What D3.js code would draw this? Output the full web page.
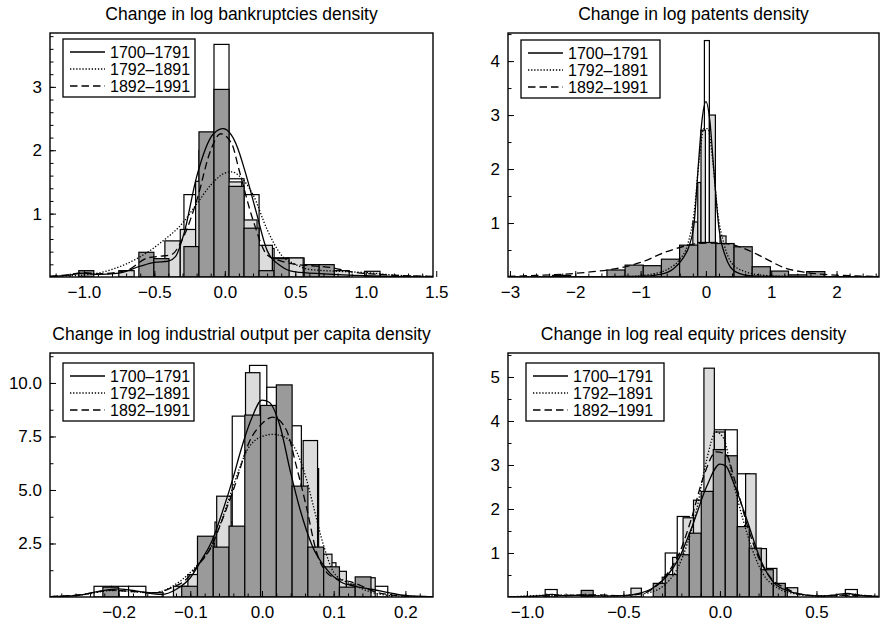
<!DOCTYPE html>
<html>
<head>
<meta charset="utf-8">
<script src="https://cdn.jsdelivr.net/npm/d3@7"></script>
<style>
body { margin: 0; background: #fff; }
text { font-family: "Liberation Sans", Arial, Helvetica, sans-serif; fill: #000; }
</style>
</head>
<body>
<svg id="chart" width="885" height="626"></svg>
<script>
// legend labels, same for all four panels
var periods = ["1700\u20131791", "1792\u20131891", "1892\u20131991"];

// ---- bankruptcies
var bankTitle = "Change in log bankruptcies density";
var bankXTicks = [-1.0, -0.5, 0.0, 0.5, 1.0, 1.5];
var bankYTicks = [1, 2, 3];
var bankWhiteBins = [-1.036, 0.1066];
var bankWhiteH = [0, 0, 0, 0, 0, 0, 0.4, 1.30, 2.0, 3.67, 1.55, 1.30, 0.45, 0.3, 0.3];
var bankLightBins = [-0.752, 0.109];
var bankLightH = [0.1, 0, 0, 0.57, 0.75, 1.51, 2.0, 1.5, 0.9, 0.5, 0.3, 0.3, 0, 0, 0.1, 0, 0.09];
var bankDarkBins = [-1.036, 0.1066];
var bankDarkH = [0.1, 0, 0, 0, 0.39, 0.29, 0, 0.48, 2.29, 2.96, 1.43, 0.77, 0.1, 0.29, 0, 0.195, 0.195];
var bankSolid = [[-1.24,0.01],[-1.1,0.03],[-1.0,0.06],[-0.9,0.04],[-0.75,0.06],[-0.6,0.17],[-0.5,0.23],[-0.4,0.25],[-0.35,0.32],[-0.29,0.68],[-0.2,1.58],[-0.08,2.26],[-0.01,2.34],[0.08,2.1],[0.155,1.58],[0.226,1.0],[0.3,0.42],[0.4,0.17],[0.5,0.08],[0.7,0.05],[1.0,0.02],[1.477,0.0]];
var bankDotted = [[-1.24,0.01],[-1.0,0.03],[-0.8,0.12],[-0.6,0.32],[-0.45,0.55],[-0.3,0.85],[-0.2,1.15],[-0.1,1.45],[0.0,1.64],[0.05,1.66],[0.1,1.6],[0.2,1.3],[0.3,0.75],[0.4,0.35],[0.5,0.2],[0.6,0.12],[0.8,0.09],[1.0,0.07],[1.2,0.03],[1.477,0.01]];
var bankDashed = [[-1.24,0.01],[-1.1,0.04],[-1.0,0.07],[-0.9,0.05],[-0.7,0.1],[-0.55,0.3],[-0.45,0.33],[-0.38,0.35],[-0.3,0.6],[-0.2,1.2],[-0.1,2.0],[-0.03,2.26],[0.05,2.1],[0.1,1.7],[0.2,0.9],[0.3,0.35],[0.4,0.25],[0.5,0.2],[0.6,0.18],[0.75,0.15],[0.9,0.08],[1.1,0.04],[1.477,0.01]];

// ---- patents
var patTitle = "Change in log patents density";
var patXTicks = [-3, -2, -1, 0, 1, 2];
var patYTicks = [1, 2, 3, 4];
var patWhiteEdges = [-0.023, 0.053];
var patWhiteH = [4.38];
var patLightEdges = [-0.2, -0.125, -0.075, -0.008, 0.053, 0.145, 0.216, 0.308];
var patLightH = [1.02, 1.75, 2.72, 0.6, 3.0, 0.6, 0.76];
var patDarkBins = [-2.349, 0.278];
var patDarkH = [0.03, 0, 0, 0.13, 0.22, 0.21, 0.33, 0.59, 0.64, 0.62, 0.56, 0.19, 0.11, 0.04, 0.1];
var patSolid = [[-3.03,0],[-1.0,0.01],[-0.7,0.05],[-0.5,0.15],[-0.35,0.35],[-0.25,0.6],[-0.18,1.0],[-0.12,2.0],[-0.06,2.9],[0.0,3.25],[0.06,2.9],[0.12,2.0],[0.2,0.9],[0.3,0.38],[0.45,0.1],[0.7,0.02],[1.0,0.01],[2.65,0]];
var patDotted = [[-3.03,0],[-1.2,0.01],[-0.8,0.06],[-0.56,0.16],[-0.4,0.33],[-0.28,0.6],[-0.18,1.2],[-0.1,2.2],[-0.03,2.75],[0.03,2.75],[0.1,2.2],[0.18,1.2],[0.28,0.6],[0.4,0.25],[0.6,0.1],[0.9,0.03],[1.3,0.01],[2.65,0]];
var patDashed = [[-3.03,0.01],[-2.6,0.03],[-2.2,0.05],[-1.8,0.09],[-1.4,0.15],[-1.0,0.27],[-0.6,0.47],[-0.3,0.58],[0.0,0.63],[0.3,0.62],[0.6,0.52],[0.9,0.35],[1.2,0.17],[1.5,0.09],[1.9,0.04],[2.3,0.02],[2.65,0.01]];

// ---- industrial output per capita
var indTitle = "Change in log industrial output per capita density";
var indXTicks = [-0.2, -0.1, 0.0, 0.1, 0.2];
var indYTicks = [2.5, 5.0, 7.5, 10.0];
var indWhiteBins = [-0.2343, 0.0241];
var indWhiteH = [0.5, 0.5, 0.5, 0.2, 0, 0.4, 2.5, 3.5, 8.45, 10.82, 9.8, 8.0, 6.0, 1.6, 0.4, 0.2, 0.5];
var indLightBins = [-0.1235, 0.0201];
var indLightH = [0.5, 1.05, 2.0, 4.71, 3.0, 10.48, 8.0, 8.0, 5.0, 7.31, 2.0, 1.2, 0.6, 0.9];
var indDarkBins = [-0.222, 0.022];
var indDarkH = [0.46, 0, 0, 0, 0, 0.5, 2.84, 2.33, 3.31, 8.5, 8.95, 9.91, 5.18, 2.33, 1.41, 0.46, 0.94];
var indSolid = [[-0.295,0.02],[-0.26,0.06],[-0.23,0.25],[-0.2,0.38],[-0.17,0.25],[-0.14,0.12],[-0.12,0.35],[-0.1,0.9],[-0.085,1.7],[-0.07,2.6],[-0.055,4.0],[-0.04,5.6],[-0.03,6.8],[-0.015,8.3],[0.0,9.2],[0.01,9.1],[0.025,8.0],[0.04,5.8],[0.053,4.1],[0.07,2.4],[0.09,1.3],[0.11,0.7],[0.13,0.5],[0.155,0.35],[0.18,0.18],[0.2,0.07],[0.238,0.01]];
var indDotted = [[-0.295,0.02],[-0.25,0.1],[-0.21,0.3],[-0.18,0.25],[-0.15,0.2],[-0.125,0.5],[-0.1,1.15],[-0.085,1.7],[-0.07,2.4],[-0.055,3.7],[-0.04,5.2],[-0.02,6.9],[0.0,7.5],[0.015,7.6],[0.03,7.5],[0.045,7.0],[0.062,5.5],[0.072,4.2],[0.086,2.4],[0.1,1.15],[0.115,0.75],[0.132,0.5],[0.15,0.25],[0.17,0.1],[0.2,0.03],[0.238,0.01]];
var indDashed = [[-0.295,0.02],[-0.25,0.12],[-0.21,0.32],[-0.18,0.25],[-0.15,0.2],[-0.125,0.45],[-0.11,0.7],[-0.09,1.45],[-0.07,2.4],[-0.059,3.3],[-0.04,5.0],[-0.017,7.3],[0.0,8.1],[0.015,8.4],[0.034,7.8],[0.048,6.1],[0.062,4.2],[0.076,2.1],[0.09,1.15],[0.105,0.85],[0.123,0.72],[0.14,0.5],[0.155,0.27],[0.18,0.1],[0.21,0.03],[0.238,0.01]];

// ---- real equity prices
var eqTitle = "Change in log real equity prices density";
var eqXTicks = [-1.0, -0.5, 0.0, 0.5];
var eqYTicks = [1, 2, 3, 4, 5];
var eqWhiteBins = [-0.9054, 0.0622];
var eqWhiteH = [0.17, 0, 0, 0, 0, 0, 0, 0, 0, 0, 1.0, 1.83, 1.7, 2.3, 3.8, 3.8, 2.8, 1.1, 0.6, 0.3, 0.2, 0, 0, 0, 0, 0.17];
var eqLightBins = [-0.461, 0.054];
var eqLightH = [0.2, 0, 0, 0.45, 0.9, 1.8, 2.2, 5.2, 3.75, 3.0, 1.6, 2.8, 1.1, 0.65, 0.2, 0.21];
var eqDarkBins = [-0.7188, 0.0622];
var eqDarkH = [0.15, 0, 0, 0, 0, 0, 0.31, 0.51, 0.96, 1.45, 2.4, 3.35, 3.21, 1.6, 1.11, 0.62, 0.31];
var eqSolid = [[-1.098,0.0],[-0.95,0.02],[-0.87,0.06],[-0.8,0.03],[-0.7,0.04],[-0.6,0.02],[-0.5,0.03],[-0.42,0.08],[-0.35,0.2],[-0.28,0.45],[-0.21,0.9],[-0.14,1.65],[-0.07,2.5],[0.0,3.02],[0.03,2.98],[0.07,2.6],[0.14,1.75],[0.21,0.85],[0.28,0.32],[0.36,0.13],[0.44,0.05],[0.52,0.02],[0.6,0.05],[0.66,0.08],[0.72,0.04],[0.824,0.01]];
var eqDotted = [[-1.098,0.0],[-0.87,0.04],[-0.7,0.04],[-0.55,0.02],[-0.45,0.05],[-0.35,0.12],[-0.28,0.3],[-0.22,0.65],[-0.17,1.2],[-0.12,2.0],[-0.07,3.1],[-0.02,3.75],[0.02,3.6],[0.07,2.6],[0.12,1.75],[0.17,1.05],[0.22,0.55],[0.3,0.2],[0.38,0.08],[0.46,0.03],[0.6,0.03],[0.66,0.05],[0.824,0.01]];
var eqDashed = [[-1.098,0],[-0.85,0.03],[-0.65,0.05],[-0.5,0.03],[-0.4,0.08],[-0.33,0.25],[-0.27,0.55],[-0.21,1.0],[-0.15,1.75],[-0.08,2.8],[-0.02,3.3],[0.03,3.25],[0.08,2.6],[0.14,1.65],[0.2,0.9],[0.27,0.4],[0.34,0.2],[0.42,0.06],[0.55,0.02],[0.66,0.04],[0.824,0.01]];

function uniformEdges(bins, h) {
  return d3.range(h.length + 1).map(function(i) { return bins[0] + i * bins[1]; });
}

var svg = d3.select("#chart");
var lineStyles = [null, "1.3,1.8", "7.5,4"];
var fills = ["#ffffff", "#dcdcdc", "#9a9a9a"];

var panels = [
  { title: bankTitle, box: [50, 33, 433, 277], xd: [-1.24, 1.477], yd: [0, 3.85],
    xt: bankXTicks, yt: bankYTicks, xf: ".1f", yf: "d", xMinor: 0.1, yMinor: 0.2,
    hist: [[uniformEdges(bankWhiteBins, bankWhiteH), bankWhiteH], [uniformEdges(bankLightBins, bankLightH), bankLightH], [uniformEdges(bankDarkBins, bankDarkH), bankDarkH]],
    curves: [bankSolid, bankDotted, bankDashed], leg: [13, 6, 132] },
  { title: patTitle, box: [508, 33, 879, 277], xd: [-3.03, 2.65], yd: [0, 4.52],
    xt: patXTicks, yt: patYTicks, xf: "d", yf: "d", xMinor: 0.2, yMinor: 0.5,
    hist: [[patWhiteEdges, patWhiteH], [patLightEdges, patLightH], [uniformEdges(patDarkBins, patDarkH), patDarkH]],
    curves: [patSolid, patDotted, patDashed], leg: [13, 7, 139] },
  { title: indTitle, box: [50, 353, 433, 597], xd: [-0.2957, 0.2385], yd: [0, 11.4],
    xt: indXTicks, yt: indYTicks, xf: ".1f", yf: ".1f", xMinor: 0.02, yMinor: 1.25,
    hist: [[uniformEdges(indWhiteBins, indWhiteH), indWhiteH], [uniformEdges(indLightBins, indLightH), indLightH], [uniformEdges(indDarkBins, indDarkH), indDarkH]],
    curves: [indSolid, indDotted, indDashed], leg: [13, 10, 131] },
  { title: eqTitle, box: [508, 353, 879, 597], xd: [-1.098, 0.824], yd: [0, 5.545],
    xt: eqXTicks, yt: eqYTicks, xf: ".1f", yf: "d", xMinor: 0.1, yMinor: 0.5,
    hist: [[uniformEdges(eqWhiteBins, eqWhiteH), eqWhiteH], [uniformEdges(eqLightBins, eqLightH), eqLightH], [uniformEdges(eqDarkBins, eqDarkH), eqDarkH]],
    curves: [eqSolid, eqDotted, eqDashed], leg: [18, 10, 138] }
];

panels.forEach(function(p, pi) {
  var L = p.box[0], T = p.box[1], R = p.box[2], B = p.box[3];
  var x = d3.scaleLinear().domain(p.xd).range([L, R]);
  var y = d3.scaleLinear().domain(p.yd).range([B, T]);
  var g = svg.append("g");

  g.append("clipPath").attr("id", "clip" + pi)
    .append("rect").attr("x", L).attr("y", T).attr("width", R - L).attr("height", B - T);
  var plot = g.append("g").attr("clip-path", "url(#clip" + pi + ")");

  // histograms: white, light grey, dark grey
  p.hist.forEach(function(s, si) {
    var edges = s[0], h = s[1];
    var bars = h.map(function(v, i) { return { a: edges[i], b: edges[i + 1], h: v }; })
      .filter(function(d) { return d.h > 0; });
    plot.selectAll("rect.s" + si)
      .data(bars)
      .enter()
      .append("rect")
        .attr("class", "s" + si)
        .attr("x", function(d) { return x(d.a); })
        .attr("y", function(d) { return y(d.h); })
        .attr("width", function(d) { return x(d.b) - x(d.a); })
        .attr("height", function(d) { return y(0) - y(d.h); })
        .attr("fill", fills[si])
        .attr("stroke", "#000")
        .attr("stroke-width", 1.2);
  });

  // density curves
  var line = d3.line()
    .x(function(d) { return x(d[0]); })
    .y(function(d) { return y(d[1]); })
    .curve(d3.curveMonotoneX);
  p.curves.forEach(function(c, ci) {
    plot.append("path")
      .attr("d", line(c))
      .attr("fill", "none")
      .attr("stroke", "#000")
      .attr("stroke-width", 1.3)
      .attr("stroke-dasharray", lineStyles[ci]);
  });

  // axes, ticks point inward
  var xMinorTicks = d3.range(Math.ceil(p.xd[0] / p.xMinor), Math.floor(p.xd[1] / p.xMinor) + 1)
    .map(function(i) { return i * p.xMinor; });
  var yMinorTicks = d3.range(1, Math.floor(p.yd[1] / p.yMinor) + 1)
    .map(function(i) { return i * p.yMinor; });

  g.append("g").attr("transform", "translate(0," + B + ")")
    .call(d3.axisBottom(x).tickValues(xMinorTicks).tickSize(-3.5).tickFormat(""))
    .call(function(a) { a.select(".domain").remove(); });
  g.append("g").attr("transform", "translate(" + L + ",0)")
    .call(d3.axisLeft(y).tickValues(yMinorTicks).tickSize(-3.5).tickFormat(""))
    .call(function(a) { a.select(".domain").remove(); });

  var xa = g.append("g").attr("transform", "translate(0," + B + ")")
    .call(d3.axisBottom(x).tickValues(p.xt).tickSize(-6).tickPadding(9).tickFormat(d3.format(p.xf)));
  xa.select(".domain").remove();
  var ya = g.append("g").attr("transform", "translate(" + L + ",0)")
    .call(d3.axisLeft(y).tickValues(p.yt).tickSize(-6).tickPadding(8).tickFormat(d3.format(p.yf)));
  ya.select(".domain").remove();
  g.selectAll(".tick text").attr("font-size", 17).attr("font-family", "Liberation Sans, Arial, sans-serif");
  g.selectAll(".tick line").attr("stroke", "#000");

  g.append("rect")
    .attr("x", L).attr("y", T).attr("width", R - L).attr("height", B - T)
    .attr("fill", "none").attr("stroke", "#000").attr("stroke-width", 1.4);

  g.append("text")
    .attr("x", (L + R) / 2).attr("y", T - 13)
    .attr("text-anchor", "middle")
    .attr("font-size", 17.5)
    .text(p.title);

  // legend
  var lg = g.append("g").attr("transform", "translate(" + (L + p.leg[0]) + "," + (T + p.leg[1]) + ")");
  lg.append("rect").attr("width", p.leg[2]).attr("height", 58)
    .attr("fill", "#fff").attr("stroke", "#000").attr("stroke-width", 1.3);
  periods.forEach(function(name, i) {
    var ly = 13 + i * 17;
    lg.append("line").attr("x1", 7).attr("x2", 42).attr("y1", ly).attr("y2", ly)
      .attr("stroke", "#000").attr("stroke-width", 1.3)
      .attr("stroke-dasharray", lineStyles[i]);
    lg.append("text").attr("x", 47).attr("y", ly).attr("dy", "0.36em")
      .attr("font-size", 16)
      .text(name);
  });
});
</script>
</body>
</html>
